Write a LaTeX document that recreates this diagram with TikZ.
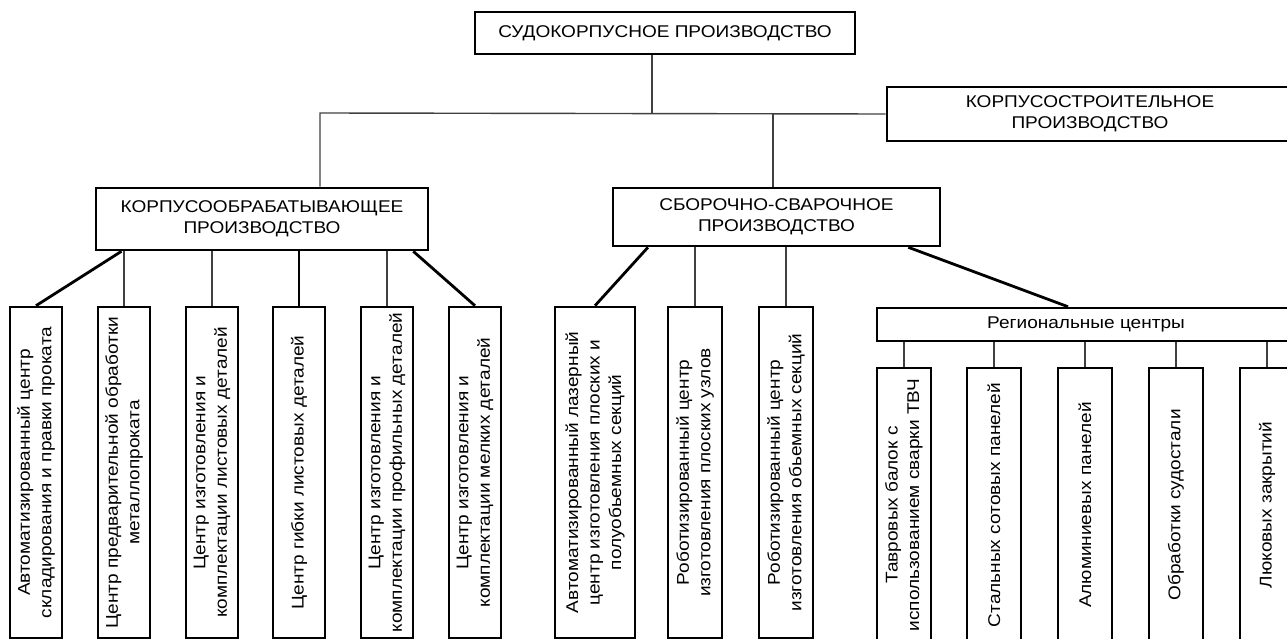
\documentclass[tikz,border=0pt]{standalone}
\usepackage{fontspec}
\setmainfont{Liberation Sans}[FakeStretch=1.12]
\usetikzlibrary{calc,positioning}
\tikzset{
  unit/.style={draw,rectangle,line width=2.6pt,inner sep=0pt,align=center,
    font=\fontsize{17}{21.5}\selectfont},
  cell/.style={unit,rotate=90,minimum width=331pt,minimum height=52pt},
  subcell/.style={unit,rotate=90,minimum width=274pt,minimum height=54pt},
  link/.style={draw=black!75,line width=1.4pt},
  heavy/.style={draw=black,line width=2.8pt},
}
\begin{document}
\begin{tikzpicture}[x=1pt,y=-1pt]
        \useasboundingbox (0,0) rectangle (1287,639);

        % upper levels
        \node[unit,minimum width=380pt,minimum height=42pt] (root) at (665,33) {СУДОКОРПУСНОЕ ПРОИЗВОДСТВО};
        \node[unit,minimum width=406pt,minimum height=54pt] (hull) at (1090,114) {КОРПУСОСТРОИТЕЛЬНОЕ\\ПРОИЗВОДСТВО};
        \node[unit,minimum width=332pt,minimum height=62pt] (proc) at (262,219) {КОРПУСООБРАБАТЫВАЮЩЕЕ\\ПРОИЗВОДСТВО};
        \node[unit,minimum width=327pt,minimum height=58pt] (weld) at (776.5,217) {СБОРОЧНО-СВАРОЧНОЕ\\ПРОИЗВОДСТВО};

        % processing centres
        \node[cell] (a1) at (36,472.5) {Автоматизированный центр\\складирования и правки проката};
        \node[cell] (a2) at (124,472.5) {Центр предварительной обработки\\металлопроката};
        \node[cell] (a3) at (212,472.5) {Центр изготовления и\\комплектации листовых деталей};
        \node[cell] (a4) at (299,472.5) {Центр гибки листовых деталей};
        \node[cell] (a5) at (387,472.5) {Центр изготовления и\\комплектации профильных деталей};
        \node[cell] (a6) at (475,472.5) {Центр изготовления и\\комплектации мелких деталей};

        % assembly centres
        \node[cell,minimum height=80pt] (b1) at (595,472.5) {Автоматизированный лазерный\\центр изготовления плоских и\\полуобьемных секций};
        \node[cell,minimum height=54pt] (b2) at (695,472.5) {Роботизированный центр\\изготовления плоских узлов};
        \node[cell,minimum height=54pt] (b3) at (786,472.5) {Роботизированный центр\\изготовления обьемных секций};

        % regional centres
        \node[unit,minimum width=418pt,minimum height=33pt] (reg) at (1086,324.5) {Региональные центры};
        \node[subcell] (c1) at (904,505) {Тавровых балок с\\использованием сварки ТВЧ};
        \node[subcell] (c2) at (994,505) {Стальных сотовых панелей};
        \node[subcell] (c3) at (1085,505) {Алюминиевых панелей};
        \node[subcell] (c4) at (1176,505) {Обработки судостали};
        \node[subcell] (c5) at (1267,505) {Люковых закрытий};

        \coordinate (bus) at (652,113);
        \coordinate (lbus) at (320,113);
        \coordinate (rbus) at (773,113);

        \draw[link] (root.south -| bus) -- (bus);
        \draw[link] (lbus |- proc.north) -- (lbus) -- (hull.west);
        \draw[link] (rbus) -- (rbus |- weld.north);

        \draw[heavy] ($(proc.south west)!0.08!(proc.south east)$) -- (a1.east);
        \draw[link] (a2.east |- proc.south) -- (a2.east);
        \draw[link] (a3.east |- proc.south) -- (a3.east);
        \draw[heavy] (a4.east |- proc.south) -- (a4.east);
        \draw[link] (a5.east |- proc.south) -- (a5.east);
        \draw[heavy] ($(proc.south west)!0.952!(proc.south east)$) -- (a6.east);

        \draw[heavy] ($(weld.south west)!0.11!(weld.south east)$) -- (b1.east);
        \draw[link] (b2.east |- weld.south) -- (b2.east);
        \draw[link] (b3.east |- weld.south) -- (b3.east);
        \draw[heavy] ($(weld.south west)!0.9!(weld.south east)$) -- ($(reg.north west)!0.457!(reg.north east)$);

        \foreach \c in {c1,c2,c3,c4,c5}
            \draw[link] (\c.east |- reg.south) -- (\c.east);

    \end{tikzpicture}
\end{document}
